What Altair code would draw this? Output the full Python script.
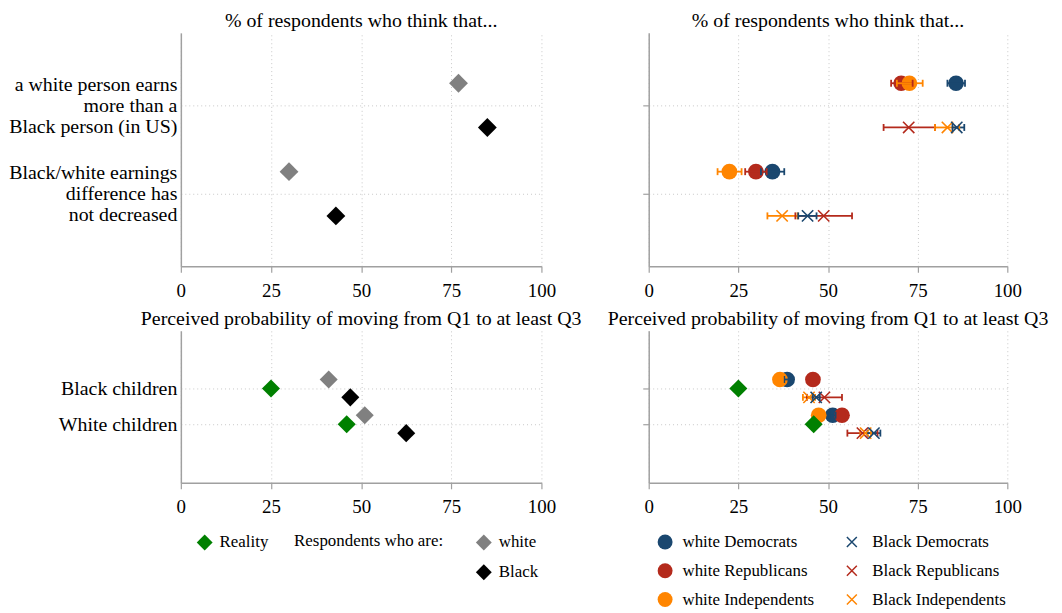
import json
import altair as alt
import pandas as pd

FONT = "Liberation Serif"
GRAY, BLACK, GREEN = "#808080", "#000000", "#008000"
NAVY, RED, ORANGE = "#1a476f", "#b42a1c", "#ff8500"
XPATH = "M-1,-1L1,1M1,-1L-1,1"
CAPPATH = "M0,-1L0,1"

# ---------------- data ----------------
title_top = "% of respondents who think that..."
title_bottom = "Perceived probability of moving from Q1 to at least Q3"

questions = [["a white person earns", "more than a", "Black person (in US)"],
             ["Black/white earnings", "difference has", "not decreased"]]
children = [["Black children"], ["White children"]]

resp_groups = ["white", "Black"]
tl_white = [77, 30]
tl_black = [85, 43]

reality_label = "Reality"
bl_reality = [25, 46]
bl_white = [41, 51]
bl_black = [47, 62.5]

white_groups = ["white Democrats", "white Republicans", "white Independents"]
black_groups = ["Black Democrats", "Black Republicans", "Black Independents"]

# top-right, question 1 / question 2 (order: Democrats, Republicans, Independents)
tr_q1_white_val = [85.7, 70.4, 72.7]
tr_q1_white_lo = [83.3, 67.6, 69.2]
tr_q1_white_hi = [88.2, 73.6, 76.4]
tr_q1_black_val = [85.9, 72.5, 83.3]
tr_q1_black_lo = [84.7, 65.5, 79.8]
tr_q1_black_hi = [88.0, 79.8, 86.6]
tr_q2_white_val = [34.5, 29.9, 22.5]
tr_q2_white_lo = [31.3, 26.9, 19.2]
tr_q2_white_hi = [37.8, 32.9, 25.9]
tr_q2_black_val = [44.3, 48.8, 37.2]
tr_q2_black_lo = [41.7, 40.9, 33.1]
tr_q2_black_hi = [46.8, 56.7, 41.5]

# bottom-right, Black children / White children
br_b_white_val = [38.6, 45.8, 36.6]
br_b_white_lo = [37.8, 45.0, 35.8]
br_b_white_hi = [39.4, 46.6, 37.4]
br_b_black_val = [46.7, 49.0, 44.7]
br_b_black_lo = [45.7, 44.1, 43.0]
br_b_black_hi = [47.7, 53.9, 46.4]
br_w_white_val = [51.3, 53.9, 47.4]
br_w_white_lo = [50.5, 53.1, 46.6]
br_w_white_hi = [52.1, 54.7, 48.2]
br_w_black_val = [62.8, 59.6, 60.5]
br_w_black_lo = [61.0, 55.4, 59.0]
br_w_black_hi = [64.6, 63.8, 62.0]

# ---------------- tables ----------------
def resp_table(white, black):
    rows = []
    for i in range(2):
        rows.append({"row": i + 1, "side": -1, "grp": "white", "val": white[i]})
        rows.append({"row": i + 1, "side": 1, "grp": "Black", "val": black[i]})
    return pd.DataFrame(rows)


def party_table(groups, side, per_row, order):
    rows = []
    for r, (vals, los, his) in enumerate(per_row):
        for k in order:
            rows.append({"row": r + 1, "side": side, "grp": groups[k],
                         "val": vals[k], "lo": los[k], "hi": his[k]})
    return pd.DataFrame(rows)


tl_df = resp_table(tl_white, tl_black)
bl_resp = resp_table(bl_white, bl_black)
bl_real = pd.DataFrame({"row": [1, 2], "side": [0, 0], "grp": [reality_label] * 2, "val": bl_reality})

tr_white = party_table(white_groups, -1, [(tr_q1_white_val, tr_q1_white_lo, tr_q1_white_hi),
                                          (tr_q2_white_val, tr_q2_white_lo, tr_q2_white_hi)], [0, 1, 2])
tr_black = party_table(black_groups, 1, [(tr_q1_black_val, tr_q1_black_lo, tr_q1_black_hi),
                                         (tr_q2_black_val, tr_q2_black_lo, tr_q2_black_hi)], [1, 2, 0])
br_white = party_table(white_groups, -1, [(br_b_white_val, br_b_white_lo, br_b_white_hi),
                                          (br_w_white_val, br_w_white_lo, br_w_white_hi)], [0, 1, 2])
br_black = party_table(black_groups, 1, [(br_b_black_val, br_b_black_lo, br_b_black_hi),
                                         (br_w_black_val, br_w_black_lo, br_w_black_hi)], [1, 2, 0])

# ---------------- scales / axes ----------------
LINE_H = 21


def label_expr(lines_list):
    expr = "''"
    for i in range(len(lines_list), 0, -1):
        expr = f"datum.value == {i} ? {json.dumps(lines_list[i - 1])} : {expr}"
    return expr


xscale = alt.Scale(domain=[0, 100], nice=False, zero=True)
xaxis = alt.Axis(values=[0, 25, 50, 75, 100], title=None, labelFlush=False, format="d",
                 grid=True, tickSize=6, labelPadding=9, labelFontSize=19)
ytop = alt.Scale(domain=[0.18, 2.82], reverse=True, nice=False, zero=False)
ybot = alt.Scale(domain=[-0.61, 3.64], reverse=True, nice=False, zero=False)


def yaxis_left(lines_list):
    n = max(len(l) for l in lines_list)
    return alt.Axis(values=[1, 2], labelExpr=label_expr(lines_list), title=None, ticks=False,
                    labelPadding=4, labelAlign="right", labelBaseline="middle",
                    labelLineHeight=LINE_H, labelOffset=-(n - 1) * LINE_H / 2,
                    grid=True, labelOverlap=False, labelFontSize=20)


yaxis_right = alt.Axis(values=[1, 2], labels=False, title=None, ticks=True, tickSize=6, grid=True)

POS = "datum.row + 0.25 * datum.side"


def ptitle(t):
    return alt.Title(t, anchor="middle", offset=2)


def diamonds(df, yscale, yaxis, domain, rng, legend=None, size=360):
    return alt.Chart(df).transform_calculate(pos=POS).mark_point(
        shape="diamond", filled=True, size=size, opacity=1, strokeWidth=0
    ).encode(
        x=alt.X("val:Q", scale=xscale, axis=xaxis),
        y=alt.Y("pos:Q", scale=yscale, axis=yaxis),
        color=alt.Color("grp:N", scale=alt.Scale(domain=domain, range=rng), legend=legend),
    )


def party_layers(wdf, bdf, yscale, yaxis, with_legend):
    wcol = alt.Scale(domain=white_groups, range=[NAVY, RED, ORANGE])
    bcol = alt.Scale(domain=black_groups, range=[NAVY, RED, ORANGE])
    wleg = alt.Legend(orient="none", legendX=8, legendY=204, title=None, symbolType="circle",
                      symbolSize=225, rowPadding=11, labelOffset=9) if with_legend else None
    bleg = alt.Legend(orient="none", legendX=196, legendY=204, title=None, symbolType=XPATH,
                      symbolSize=100, symbolStrokeWidth=1.5, rowPadding=11,
                      labelOffset=12) if with_legend else None
    x = alt.X("val:Q", scale=xscale, axis=xaxis)
    y = alt.Y("pos:Q", scale=yscale, axis=yaxis)
    circles = alt.Chart(wdf).transform_calculate(pos=POS).mark_point(
        shape="circle", filled=True, size=250, opacity=1, strokeWidth=0
    ).encode(x=x, y=y, color=alt.Color("grp:N", scale=wcol, legend=wleg))

    def bars(df, sc):
        rule = alt.Chart(df).transform_calculate(pos=POS).mark_rule(strokeWidth=1.8).encode(
            x=alt.X("lo:Q", scale=xscale, axis=xaxis), x2="hi:Q", y=y,
            color=alt.Color("grp:N", scale=sc, legend=None))
        caps = alt.Chart(df).transform_calculate(pos=POS).transform_fold(
            ["lo", "hi"], as_=["end", "endval"]
        ).mark_point(shape=CAPPATH, filled=False, size=49, strokeWidth=1.8, opacity=1).encode(
            x=alt.X("endval:Q", scale=xscale, axis=xaxis), y=y,
            color=alt.Color("grp:N", scale=sc, legend=None))
        return [rule, caps]

    crosses = alt.Chart(bdf).transform_calculate(pos=POS).mark_point(
        shape=XPATH, filled=False, size=130, strokeWidth=1.6, opacity=1
    ).encode(x=x, y=y, color=alt.Color("grp:N", scale=bcol, legend=bleg))
    return [circles] + bars(wdf, wcol) + bars(bdf, bcol) + [crosses]


# ---------------- panels ----------------
W_L, W_R = 363, 361
H_T, H_B = 235, 153

tl = diamonds(tl_df, ytop, yaxis_left(questions), resp_groups, [GRAY, BLACK]).properties(
    width=W_L, height=H_T, title=ptitle(title_top))

tr = alt.layer(*party_layers(tr_white, tr_black, ytop, yaxis_right, False)).resolve_scale(
    color="independent").properties(width=W_R, height=H_T, title=ptitle(title_top))

resp_leg = alt.Legend(orient="none", legendX=114, legendY=204, title="Respondents who are:",
                      titleOrient="left", titleAnchor="start", titlePadding=31,
                      symbolSize=256, rowPadding=13, labelOffset=6)
real_leg = alt.Legend(orient="none", legendX=15, legendY=204, title=None, symbolSize=256,
                      labelOffset=6)
bl = alt.layer(
    diamonds(bl_real, ybot, yaxis_left(children), [reality_label], [GREEN], real_leg, 330),
    diamonds(bl_resp, ybot, yaxis_left(children), resp_groups, [GRAY, BLACK], resp_leg, 330),
).resolve_scale(color="independent").properties(width=W_L, height=H_B, title=ptitle(title_bottom))

br = alt.layer(
    *party_layers(br_white, br_black, ybot, yaxis_right, True),
    diamonds(bl_real, ybot, yaxis_right, [reality_label], [GREEN], None, 330),
).resolve_scale(color="independent").properties(width=W_R, height=H_B, title=ptitle(title_bottom))

chart = alt.concat(tl, tr, bl, br, columns=2, spacing={"row": 65, "column": 108},
                   bounds="flush").properties(
    padding={"left": 0, "top": 1, "right": 5, "bottom": 0}
).configure_view(stroke=None).configure_axis(
    labelFont=FONT, labelFontSize=19, labelColor="#000000",
    domainColor="#a0a0a0", domainWidth=1.5, tickColor="#a0a0a0", tickWidth=1.2,
    gridColor="#c8c8c8", gridDash=[1, 3], gridWidth=1,
).configure_title(
    font=FONT, fontSize=20, fontWeight="normal", color="#000000"
).configure_legend(
    labelFont=FONT, labelFontSize=17, labelColor="#000000", titleFont=FONT, titleFontSize=17,
    titleFontWeight="normal", titleColor="#000000", padding=0, labelLimit=300, titleLimit=300,
)

chart.save("out.html", embed_options={"renderer": "svg", "actions": False})
